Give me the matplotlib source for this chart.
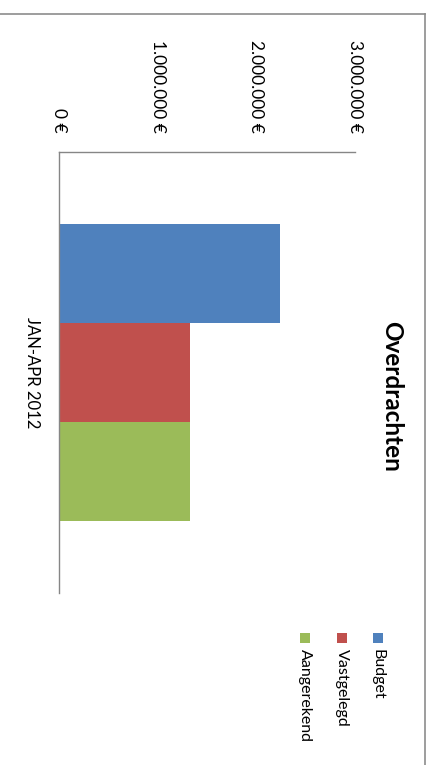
import numpy as np
import matplotlib.pyplot as plt
from matplotlib.patches import Rectangle
from matplotlib.lines import Line2D

plt.rcParams['font.family'] = ['Lato', 'DejaVu Sans']

series = ['Budget', 'Vastgelegd', 'Aangerekend']
values = [2240000, 1330000, 1330000]
colors = ['#4F81BD', '#C0504D', '#9BBB59']
category = 'JAN-APR 2012'
ticks = [0, 1000000, 2000000, 3000000]

W, H = 432, 765
fig = plt.figure(figsize=(W / 100, H / 100), dpi=100)

def px(x, y):
    # pixel position (top-left origin) -> figure fraction
    return x / W, 1 - y / H

# plot area: value axis runs left->right, chart turned a quarter turn
x0, y0, x1, y1 = 59, 152, 355, 593
ax = fig.add_axes([x0 / W, 1 - y1 / H, (x1 - x0) / W, (y1 - y0) / H])

bw = 0.224
offsets = (np.arange(len(series)) - 1) * bw
for off, v, c, name in zip(offsets, values, colors, series):
    ax.barh(off, v, height=bw, color=c, label=name)

ax.set_xlim(0, 3000000)
ax.set_ylim(0.5, -0.5)

ax.xaxis.tick_top()
ax.set_xticks(ticks)
ax.set_xticklabels([f'{t:,.0f} €'.replace(',', '.') for t in ticks],
                   rotation=-90, fontsize=12.5)
ax.set_yticks([0])
ax.set_yticklabels([category], rotation=-90, fontsize=12, va='center')
ax.tick_params(axis='x', length=0, pad=14)
ax.tick_params(axis='y', length=0, pad=14)

for s in ['right', 'bottom']:
    ax.spines[s].set_visible(False)
for s in ['left', 'top']:
    ax.spines[s].set_color('#868686')
    ax.spines[s].set_linewidth(1.0)

# title, turned with the chart
tx, ty = px(392, 396)
fig.text(tx, ty, 'Overdrachten', rotation=-90, fontsize=17.5, fontweight='bold',
         ha='center', va='center')

# legend drawn by hand so the entries can be rotated
leg_x = [378, 342, 305]
for lx, c, name in zip(leg_x, colors, series):
    rx, ry = px(lx - 5, 643)
    fig.add_artist(Rectangle((rx, ry), 10 / W, 10 / H, facecolor=c,
                             edgecolor='none', transform=fig.transFigure))
    fx, fy = px(lx, 649)
    fig.text(fx, fy, name, rotation=-90, fontsize=11.5, ha='center', va='top')

# chart border
bx, by = px(425, 13.5)
fig.add_artist(Line2D([0, bx], [by, by], color='#8c8c8c', lw=1.2,
                      transform=fig.transFigure))
fig.add_artist(Line2D([bx, bx], [by, 0], color='#8c8c8c', lw=1.2,
                      transform=fig.transFigure))

fig.savefig('out.png', dpi=100)
